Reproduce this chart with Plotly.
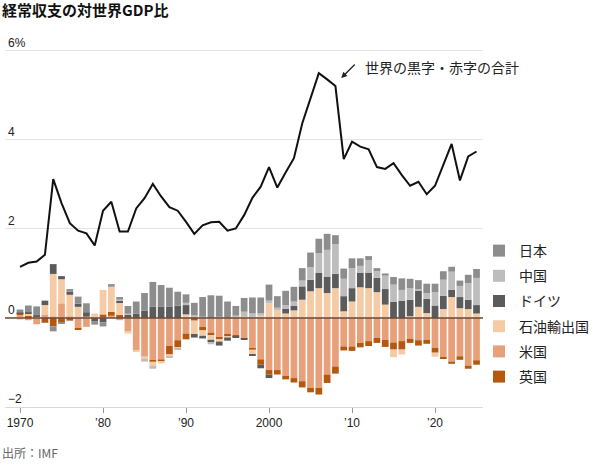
import plotly.graph_objects as go

years = list(range(1970, 2026))

world_total = [1.15, 1.24, 1.27, 1.42, 3.12, 2.58, 2.13, 1.96, 1.90, 1.63,
               2.41, 2.61, 1.94, 1.94, 2.46, 2.69, 3.01, 2.73, 2.49, 2.41,
               2.16, 1.89, 2.08, 2.15, 2.16, 1.96, 2.01, 2.31, 2.70, 2.95,
               3.39, 2.93, 3.27, 3.59, 4.37, 4.91, 5.50, 5.36, 5.21, 3.57,
               3.96, 3.85, 3.79, 3.39, 3.35, 3.48, 3.21, 2.97, 3.06, 2.78,
               2.97, 3.44, 3.91, 3.09, 3.63, 3.74]

us = [0.07, -0.05, -0.14, 0.08, 0.03, 0.33, 0.03, -0.23, -0.20, 0.00,
      0.02, 0.05, -0.05, -0.31, -0.73, -0.87, -0.95, -0.93, -0.63, -0.50,
      -0.35, 0.01, -0.20, -0.33, -0.44, -0.37, -0.39, -0.45, -0.69, -0.93,
      -1.17, -1.17, -1.30, -1.35, -1.42, -1.57, -1.57, -1.27, -1.09, -0.64,
      -0.64, -0.56, -0.52, -0.45, -0.49, -0.55, -0.52, -0.47, -0.50, -0.49,
      -0.67, -0.88, -0.98, -0.86, -1.07, -0.95]

uk = [0.04, 0.05, 0.01, -0.10, -0.19, -0.10, -0.06, -0.02, 0.01, -0.02,
      0.06, 0.09, 0.07, 0.04, 0.02, 0.02, -0.03, -0.05, -0.19, -0.17,
      -0.13, -0.06, -0.08, -0.06, -0.04, -0.04, -0.03, -0.01, -0.02, -0.12,
      -0.10, -0.10, -0.08, -0.10, -0.14, -0.10, -0.15, -0.19, -0.16, -0.09,
      -0.10, -0.10, -0.11, -0.11, -0.16, -0.16, -0.19, -0.09, -0.12, -0.09,
      -0.11, -0.03, -0.05, -0.08, -0.07, -0.10]

oil = [-0.04, 0.06, 0.03, 0.21, 0.96, 0.54, 0.49, 0.25, 0.02, 0.10,
       0.55, 0.56, 0.28, -0.04, -0.03, -0.05, -0.12, -0.04, -0.05, -0.02,
       0.08, -0.30, -0.12, -0.10, -0.05, -0.03, 0.04, 0.03, -0.10, 0.05,
       0.33, 0.18, 0.10, 0.17, 0.41, 0.60, 0.67, 0.56, 0.67, 0.15,
       0.37, 0.69, 0.67, 0.58, 0.30, -0.17, -0.11, 0.04, 0.25, 0.11,
       -0.09, 0.20, 0.47, 0.22, 0.20, 0.10]

germany = [0.01, 0.02, 0.02, 0.10, 0.22, 0.07, 0.07, 0.07, 0.10, -0.05,
           -0.10, 0.00, 0.04, 0.04, 0.08, 0.14, 0.25, 0.26, 0.26, 0.28,
           0.21, -0.08, -0.06, -0.05, -0.09, -0.07, -0.03, -0.03, -0.04, -0.08,
           -0.08, 0.00, 0.11, 0.10, 0.30, 0.26, 0.34, 0.37, 0.32, 0.34,
           0.30, 0.32, 0.35, 0.32, 0.35, 0.36, 0.39, 0.37, 0.37, 0.32,
           0.28, 0.30, 0.16, 0.25, 0.21, 0.19]

china = [0.00, 0.00, 0.00, 0.00, 0.00, 0.00, 0.00, 0.00, 0.00, 0.00,
         0.00, 0.01, 0.03, 0.02, 0.00, -0.06, -0.04, 0.00, -0.02, -0.02,
         0.05, 0.05, 0.03, -0.05, 0.03, 0.01, 0.02, 0.11, 0.10, 0.06,
         0.06, 0.05, 0.08, 0.10, 0.13, 0.28, 0.45, 0.60, 0.67, 0.39,
         0.45, 0.16, 0.28, 0.15, 0.30, 0.39, 0.24, 0.26, 0.03, 0.13,
         0.30, 0.36, 0.41, 0.25, 0.37, 0.61]

japan = [0.07, 0.15, 0.20, -0.01, -0.11, -0.02, 0.06, 0.16, 0.20, -0.08,
         -0.09, 0.05, 0.05, 0.17, 0.27, 0.40, 0.56, 0.48, 0.42, 0.31,
         0.19, 0.28, 0.44, 0.51, 0.47, 0.36, 0.21, 0.31, 0.36, 0.35,
         0.36, 0.26, 0.32, 0.33, 0.28, 0.33, 0.32, 0.36, 0.20, 0.23,
         0.22, 0.17, 0.09, 0.07, 0.05, 0.17, 0.26, 0.21, 0.20, 0.21,
         0.19, 0.19, 0.11, 0.12, 0.19, 0.20]

tick_years = [1970, 1980, 1990, 2000, 2010, 2020]
tick_labels = ["1970", "’80", "’90", "2000", "’10", "’20"]
y_ticks = [-2, 0, 2, 4, 6]
y_labels = ["−2", "0", "2", "4", "6%"]

title_text = "経常収支の対世界GDP比"
note_text = "世界の黒字・赤字の合計"
source_text = "出所：IMF"

# stacking order (from zero outward), legend rank, colour
series = [
    ("米国", us, "#e8a07a", 5),
    ("英国", uk, "#b5580f", 6),
    ("石油輸出国", oil, "#f4cba4", 4),
    ("ドイツ", germany, "#5b5b5b", 3),
    ("中国", china, "#bdbdbd", 2),
    ("日本", japan, "#8d8d8d", 1),
]

FONT = "Arial, 'Liberation Sans', 'Noto Sans CJK JP', sans-serif"
JFONT = "'Noto Sans CJK JP', Arial, sans-serif"

PLOT_H = 365  # pixel height of plotting area
PLOT_W = 478

fig = go.Figure()
for name, vals, color, rank in series:
    fig.add_trace(go.Bar(
        x=years, y=vals, name=name, marker=dict(color=color, line=dict(width=0)),
        legendgroup=name, legendrank=rank,
    ))

fig.add_trace(go.Scatter(
    x=years, y=world_total, mode="lines", line=dict(color="#111111", width=2),
    showlegend=False,
))

fig.add_shape(type="line", xref="paper", x0=0, x1=1, yref="y", y0=0, y1=0,
              line=dict(color="#6a4a3a", width=1.3), layer="above")

fig.add_annotation(x=2011.3, y=5.64, text=note_text, showarrow=False,
                   xanchor="left", yanchor="middle",
                   font=dict(family=JFONT, size=14, color="#222222"))
fig.add_annotation(x=2008.7, y=5.39, text="", showarrow=True, ax=15, ay=-15,
                   arrowhead=2, arrowsize=0.9, arrowwidth=1.3, arrowcolor="#222222",
                   standoff=0)

fig.add_annotation(xref="paper", yref="paper", x=-5/PLOT_W, y=1 + 33/PLOT_H,
                   text="<b>" + title_text + "</b>", showarrow=False,
                   xanchor="left", yanchor="middle",
                   font=dict(family=JFONT, size=15, color="#111111"))
fig.add_annotation(xref="paper", yref="paper", x=-5/PLOT_W, y=-45/PLOT_H,
                   text=source_text, showarrow=False,
                   xanchor="left", yanchor="middle",
                   font=dict(family=JFONT, size=12, color="#666666"))

fig.update_layout(
    width=600, height=473,
    margin=dict(l=5, r=117, t=42, b=66, pad=0, autoexpand=False),
    paper_bgcolor="white", plot_bgcolor="white",
    barmode="relative", bargap=0.19,
    font=dict(family=FONT, size=12, color="#222222"),
    showlegend=True,
    legend=dict(x=(479 - 5) / PLOT_W, xanchor="left", y=(407 - 235) / PLOT_H,
                yanchor="top", traceorder="grouped", tracegroupgap=4,
                font=dict(family=JFONT, size=14, color="#222222"),
                bgcolor="rgba(0,0,0,0)"),
    xaxis=dict(range=[1968.19, 2025.78], tickvals=tick_years, ticktext=tick_labels,
               showgrid=False, zeroline=False, showline=True, linecolor="#d9d9d9",
               linewidth=1, ticks="outside", ticklen=5, tickcolor="#999999",
               ticklabeloverflow="allow",
               tickfont=dict(size=12, color="#222222")),
    yaxis=dict(range=[-2, 6.2], tickvals=y_ticks, ticktext=y_labels,
               ticklabelposition="inside top", ticklabeloverflow="allow",
               showgrid=True, gridcolor="#e3e3e3",
               gridwidth=1, zeroline=False, showline=False, ticks="",
               tickfont=dict(size=12, color="#222222")),
)

fig.write_html("out.html")
